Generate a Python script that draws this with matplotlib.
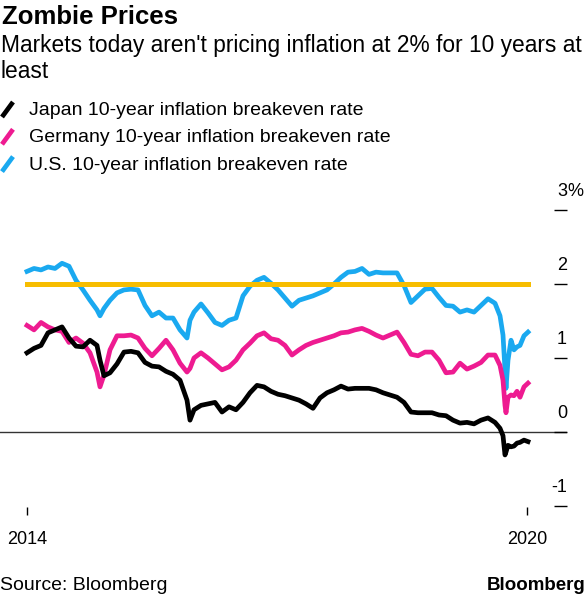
import matplotlib
matplotlib.use('Agg')
import matplotlib.pyplot as plt
from matplotlib.lines import Line2D

plt.rcParams['font.family'] = ['Liberation Sans', 'DejaVu Sans']

# data (decimal years, percent)
dates = [
    2014.000, 2014.084, 2014.168, 2014.252, 2014.336, 2014.420, 2014.504, 2014.588, 2014.672, 2014.756,
    2014.840, 2014.876, 2014.924, 2014.996, 2015.080, 2015.164, 2015.248, 2015.332, 2015.416, 2015.500,
    2015.584, 2015.668, 2015.752, 2015.836, 2015.920, 2015.956, 2016.004, 2016.088, 2016.172, 2016.256,
    2016.340, 2016.424, 2016.508, 2016.592, 2016.676, 2016.760, 2016.844, 2016.928, 2017.012, 2017.096,
    2017.180, 2017.264, 2017.348, 2017.432, 2017.516, 2017.600, 2017.684, 2017.768, 2017.852, 2017.936,
    2018.020, 2018.104, 2018.188, 2018.272, 2018.356, 2018.440, 2018.524, 2018.608, 2018.692, 2018.776,
    2018.860, 2018.944, 2019.028, 2019.112, 2019.196, 2019.280, 2019.364, 2019.448, 2019.532, 2019.616,
    2019.676, 2019.712, 2019.736, 2019.748, 2019.772, 2019.808, 2019.844, 2019.880, 2019.916, 2019.964,
    2020.012,
]

us = [
    2.17, 2.21, 2.19, 2.23, 2.21, 2.28, 2.24, 2.05, 1.92, 1.78,
    1.65, 1.57, 1.67, 1.78, 1.88, 1.92, 1.93, 1.92, 1.71, 1.57,
    1.62, 1.54, 1.54, 1.38, 1.27, 1.51, 1.62, 1.73, 1.61, 1.48,
    1.44, 1.51, 1.54, 1.84, 1.97, 2.05, 2.09, 2.01, 1.92, 1.81,
    1.70, 1.78, 1.81, 1.84, 1.88, 1.92, 2.00, 2.09, 2.16, 2.17,
    2.21, 2.13, 2.16, 2.15, 2.15, 2.15, 1.98, 1.75, 1.84, 1.93,
    1.94, 1.82, 1.71, 1.70, 1.62, 1.65, 1.62, 1.71, 1.80, 1.74,
    1.57, 1.31, 0.84, 0.59, 0.97, 1.24, 1.11, 1.15, 1.17, 1.30,
    1.35,
]

germany = [
    1.44, 1.38, 1.48, 1.42, 1.38, 1.36, 1.21, 1.27, 1.20, 1.07,
    0.81, 0.61, 0.77, 1.11, 1.30, 1.30, 1.31, 1.27, 1.13, 1.03,
    1.13, 1.24, 1.11, 0.93, 0.81, 0.86, 1.00, 1.07, 1.00, 0.92,
    0.84, 0.88, 0.97, 1.11, 1.20, 1.30, 1.34, 1.26, 1.24, 1.17,
    1.04, 1.11, 1.17, 1.21, 1.24, 1.27, 1.30, 1.34, 1.35, 1.38,
    1.40, 1.36, 1.31, 1.27, 1.31, 1.35, 1.21, 1.05, 1.03, 1.08,
    1.08, 0.97, 0.80, 0.81, 0.93, 0.85, 0.89, 0.94, 1.04, 1.04,
    0.90, 0.70, 0.36, 0.26, 0.47, 0.50, 0.49, 0.55, 0.47, 0.61,
    0.66,
]

japan = [
    1.07, 1.13, 1.17, 1.34, 1.38, 1.42, 1.27, 1.16, 1.15, 1.24,
    1.17, 0.97, 0.76, 0.80, 0.92, 1.08, 1.09, 1.07, 0.94, 0.89,
    0.88, 0.82, 0.78, 0.70, 0.43, 0.16, 0.30, 0.36, 0.38, 0.40,
    0.27, 0.34, 0.30, 0.40, 0.53, 0.63, 0.61, 0.55, 0.51, 0.49,
    0.46, 0.43, 0.38, 0.32, 0.46, 0.53, 0.57, 0.62, 0.58, 0.59,
    0.59, 0.59, 0.57, 0.53, 0.50, 0.47, 0.40, 0.27, 0.26, 0.26,
    0.26, 0.23, 0.22, 0.16, 0.12, 0.13, 0.11, 0.16, 0.19, 0.13,
    0.05, -0.05, -0.31, -0.27, -0.18, -0.20, -0.19, -0.15, -0.14, -0.11,
    -0.13,
]

target = 2.0
x_ticks = [2014, 2020]
x_labels = ['2014', '2020']
y_ticks = [-1, 0, 1, 2, 3]
y_labels = ['-1', '0', '1', '2', '3']

series_names = ['Japan 10-year inflation breakeven rate',
                'Germany 10-year inflation breakeven rate',
                'U.S. 10-year inflation breakeven rate']

BLACK = '#000000'
PINK = '#ee1b91'
BLUE = '#1aa9f0'
YELLOW = '#f7bd00'

W, H = 585, 596
fig = plt.figure(figsize=(W / 100, H / 100), dpi=100)


def fx(px):
    return px / W


def fy(py):
    return 1 - py / H


ax = fig.add_axes([0, fy(507), fx(567), fy(200) - fy(507)])
ax.axhline(0, color='#333333', lw=1.0, zorder=1)
ax.plot(dates, us, color=BLUE, lw=3.4, solid_joinstyle='round', zorder=2)
ax.plot(dates, germany, color=PINK, lw=3.4, solid_joinstyle='round', zorder=3)
ax.plot(dates, japan, color=BLACK, lw=3.4, solid_joinstyle='round', zorder=4)
ax.plot([dates[0], dates[-1]], [target, target], color=YELLOW, lw=3.6, zorder=5)

ax.set_xlim(2013.676, 2020.48)
ax.set_ylim(-1.0135, 3.135)
for s in ax.spines.values():
    s.set_visible(False)

ax.set_xticks(x_ticks)
ax.set_xticklabels(x_labels, fontsize=13)
ax.tick_params(axis='x', direction='out', length=6, width=1, pad=11, colors='black')

ax.yaxis.tick_right()
ax.set_yticks(y_ticks)
ax.tick_params(axis='y', direction='in', length=9.5, width=1, labelright=False,
               right=True, left=False)
for v, lab in zip(y_ticks, y_labels):
    ax.annotate(lab, xy=(1, v), xycoords=('axes fraction', 'data'), xytext=(0, 13),
                textcoords='offset points', ha='right', va='center', fontsize=13)
ax.annotate('%', xy=(1, y_ticks[-1]), xycoords=('axes fraction', 'data'), xytext=(0, 13),
            textcoords='offset points', ha='left', va='center', fontsize=13)

# header
fig.text(fx(2), fy(23.5), 'Zombie Prices', fontsize=18.5, fontweight='bold', va='baseline')
fig.text(fx(1), fy(52), "Markets today aren't pricing inflation at 2% for 10 years at",
         fontsize=16.4, va='baseline')
fig.text(fx(1), fy(78), 'least', fontsize=16.4, va='baseline')

# legend
for i, (name, col) in enumerate(zip(series_names, [BLACK, PINK, BLUE])):
    dy = i * 27.3
    fig.add_artist(Line2D([fx(2), fx(13)], [fy(117 + dy), fy(102 + dy)],
                          transform=fig.transFigure, color=col, lw=3.4,
                          solid_capstyle='butt'))
    fig.text(fx(29), fy(115 + dy), name, fontsize=14, va='baseline')

# footer
fig.text(fx(0), fy(590), 'Source: Bloomberg', fontsize=14, va='baseline')
fig.text(fx(585), fy(590), 'Bloomberg', fontsize=13.5, fontweight='bold',
         va='baseline', ha='right')

fig.savefig('out.png', dpi=100)
